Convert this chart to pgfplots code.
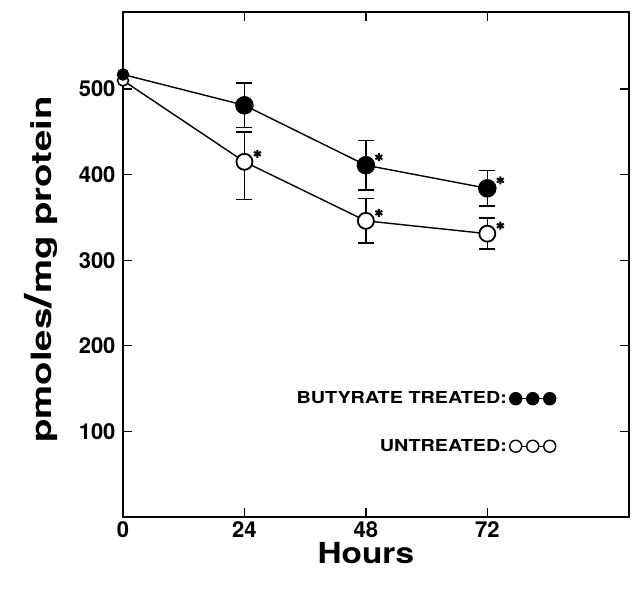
\documentclass[border=0pt]{standalone}
\usepackage{fontspec}
\setmainfont{TeX Gyre Heros}
\newfontfamily\widefont[FakeStretch=1.37]{TeX Gyre Heros}
\newfontfamily\hoursfont[FakeStretch=1.15]{TeX Gyre Heros}
\newfontfamily\legfont[FakeStretch=1.2]{TeX Gyre Heros}
\usepackage{pgfplots}
\pgfplotsset{compat=1.18}
\begin{document}
\begin{tikzpicture}
\useasboundingbox (-123pt,-75pt) rectangle (518pt,517pt);
\begin{axis}[
  at={(0,0)}, anchor=origin,
  width=506pt, height=505pt, scale only axis,
  xmin=0, xmax=100, ymin=0, ymax=590,
  xtick={0,24,48,72}, ytick={100,200,300,400,500},
  tick align=inside, major tick length=9pt,
  tick style={line width=1.3pt, black},
  axis line style={line width=1.6pt},
  ticklabel style={font=\bfseries\fontsize{22}{22}\selectfont},
  /pgf/number format/assume math mode=true,
  xticklabel style={yshift=-1pt},
  yticklabel style={xshift=-4pt},
  xlabel={Hours},
  xlabel style={font=\hoursfont\bfseries\fontsize{29}{29}\selectfont,
    at={(axis description cs:0.48,-0.072)}, anchor=center},
  ylabel={pmoles{\fontsize{38}{38}\selectfont/}mg protein},
  ylabel style={font=\widefont\bfseries\fontsize{28}{28}\selectfont,
    at={(axis description cs:-0.162,0.49)}, anchor=center},
  legend cell align=right,
  legend style={draw=none, fill=none, at={(0.857,0.252)}, anchor=north east,
    legend plot pos=right, font=\legfont\bfseries\fontsize{16.5}{16.5}\selectfont,
    row sep=30pt, inner sep=0pt},
]
% error bars
\addplot[only marks, mark=none, forget plot,
  error bars/.cd, y dir=both, y explicit,
  error mark=-, error mark options={rotate=90, mark size=8pt, line width=1.6pt, draw=black},
  error bar style={line width=1.6pt, black}]
  coordinates {(24,481) +- (0,26) (48,411) +- (0,29) (72,384) +- (0,21)};
\addplot[only marks, mark=none, forget plot,
  error bars/.cd, y dir=both, y explicit,
  error mark=-, error mark options={rotate=90, mark size=8pt, line width=1.6pt, draw=black},
  error bar style={line width=1.6pt, black}]
  coordinates {(24,415) += (0,35) -= (0,44) (48,346) +- (0,26) (72,331) +- (0,18)};
% lines
\addplot[black, line width=1.4pt, mark=none, forget plot]
  coordinates {(0,517) (24,481) (48,411) (72,384)};
\addplot[black, line width=1.4pt, mark=none, forget plot]
  coordinates {(0,510) (24,415) (48,346) (72,331)};
% marks at 0
\addplot[only marks, mark=*, mark size=5.5pt, mark options={draw=black, fill=white, line width=1.5pt}, forget plot]
  coordinates {(0,510)};
\addplot[only marks, mark=*, mark size=5.5pt, mark options={draw=black, fill=black, line width=1.5pt}, forget plot]
  coordinates {(0,517)};
% marks
\addplot[only marks, mark=*, mark size=8.5pt, mark options={draw=black, fill=black, line width=1.5pt}, forget plot]
  coordinates {(24,481) (48,411) (72,384)};
\addplot[only marks, mark=*, mark size=8pt, mark options={draw=black, fill=white, line width=1.8pt}, forget plot]
  coordinates {(24,415) (48,346) (72,331)};
% significance stars
\addplot[only marks, mark=asterisk, mark size=4pt, forget plot,
  mark options={line width=2pt, black, xshift=13pt, yshift=8pt}]
  coordinates {(24,415) (48,411) (48,346) (72,384) (72,331)};
% legend
\addlegendimage{legend image code/.code={
  \draw[line width=1.2pt] (0pt,0pt) -- (34pt,0pt);
  \foreach \xx in {0,17,34} \draw[line width=1.4pt, fill=black] (\xx pt,0pt) circle (6pt);}}
\addlegendentry{BUTYRATE TREATED:}
\addlegendimage{legend image code/.code={
  \draw[line width=1.2pt] (0pt,0pt) -- (34pt,0pt);
  \foreach \xx in {0,17,34} \draw[line width=1.4pt, fill=white] (\xx pt,0pt) circle (6pt);}}
\addlegendentry{UNTREATED:}
\end{axis}
\end{tikzpicture}
\end{document}
